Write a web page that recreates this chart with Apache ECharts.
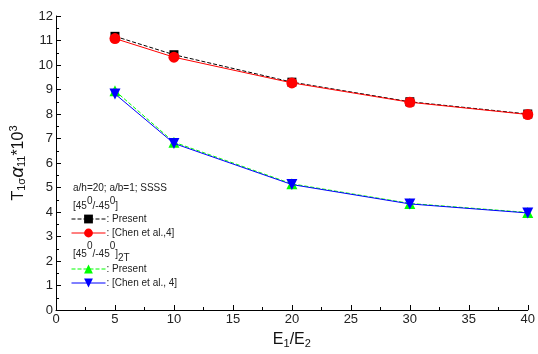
<!DOCTYPE html>
<html>
<head>
<meta charset="utf-8">
<script src="https://cdn.jsdelivr.net/npm/echarts@6/dist/echarts.min.js"></script>
<style>
  html, body { margin: 0; padding: 0; background: #fff; }
  #chart { width: 538px; height: 354px; }
</style>
</head>
<body>
<div id="chart"></div>
<script>
// E1/E2 ratios
const ratios = [5, 10, 20, 30, 40];
// [45/-45] laminate
const presentAntisym = [11.17, 10.42, 9.30, 8.50, 8.00];
const chenAntisym = [11.08, 10.32, 9.27, 8.48, 7.98];
// [45/-45]2T laminate
const present2T = [8.95, 6.85, 5.15, 4.35, 3.98];
const chen2T = [8.82, 6.80, 5.12, 4.33, 3.96];

const xTicks = { min: 0, max: 40, interval: 5 };
const yTicks = { min: 0, max: 12, interval: 1 };

const legendText = {
  'p1': ': Present',
  'c1': ': [Chen et al.,4]',
  'p2': ': Present',
  'c2': ': [Chen et al., 4]'
};

const font = '"Liberation Sans", Arial, sans-serif';
const pair = arr => arr.map((v, i) => [ratios[i], v]);

const legendBase = {
  orient: 'vertical', left: 71, padding: 0,
  itemWidth: 34, itemHeight: 11, itemGap: 4,
  lineStyle: { width: 1 },
  formatter: n => legendText[n],
  textStyle: { fontSize: 10, fontFamily: font, color: '#222', padding: [0, 0, 0, -4] }
};

const chart = echarts.init(document.getElementById('chart'));
chart.setOption({
  animation: false,
  backgroundColor: '#ffffff',
  grid: { left: 56, right: 10, top: 16, bottom: 36, containLabel: false },
  xAxis: {
    type: 'value',
    min: xTicks.min, max: xTicks.max, interval: xTicks.interval,
    name: '{m|E}{s|1}{m|/E}{s|2}',
    nameLocation: 'middle',
    nameGap: 20,
    nameTextStyle: {
      rich: {
        m: { fontSize: 16, fontFamily: font, color: '#111' },
        s: { fontSize: 11, fontFamily: font, color: '#111', verticalAlign: 'bottom', padding: [8, 0, 0, 0] }
      }
    },
    axisLine: { lineStyle: { color: '#000', width: 1 } },
    axisTick: { inside: true, length: 5, lineStyle: { color: '#000' } },
    minorTick: { show: true, splitNumber: 2, length: 3, lineStyle: { color: '#000' } },
    axisLabel: { fontSize: 13, fontFamily: font, color: '#222', margin: 3 },
    splitLine: { show: false }
  },
  yAxis: {
    type: 'value',
    min: yTicks.min, max: yTicks.max, interval: yTicks.interval,
    name: '{m|T}{s|1σ}{a|α}{s|11}{m|*10}{p|3}',
    nameLocation: 'middle',
    nameGap: 27,
    nameTextStyle: {
      rich: {
        m: { fontSize: 16, fontFamily: font, color: '#111' },
        a: { fontSize: 19, fontFamily: font, fontStyle: 'italic', color: '#111' },
        s: { fontSize: 11, fontFamily: font, color: '#111', verticalAlign: 'bottom', padding: [8, 0, 0, 0] },
        p: { fontSize: 11, fontFamily: font, color: '#111', verticalAlign: 'top', padding: [0, 0, 8, 0] }
      }
    },
    axisLine: { show: true, lineStyle: { color: '#000', width: 1 } },
    axisTick: { show: true, inside: true, length: 5, lineStyle: { color: '#000' } },
    minorTick: { show: true, splitNumber: 2, length: 3, lineStyle: { color: '#000' } },
    axisLabel: { fontSize: 13, fontFamily: font, color: '#222', margin: 3 },
    splitLine: { show: false }
  },
  legend: [
    Object.assign({ data: ['p1', 'c1'], top: 214 }, legendBase),
    Object.assign({ data: ['p2', 'c2'], top: 264 }, legendBase)
  ],
  graphic: [
    {
      type: 'text', left: 73, top: 183,
      style: { text: 'a/h=20; a/b=1; SSSS', font: '10px ' + font, fill: '#222' }
    },
    {
      type: 'text', left: 73, top: 196,
      style: {
        text: '{n|[45}{p|0}{n|/-45}{p|0}{n|]}',
        rich: {
          n: { fontSize: 10, fontFamily: font, fill: '#222', padding: [5, 0, 0, 0] },
          p: { fontSize: 10, fontFamily: font, fill: '#222', verticalAlign: 'top' }
        }
      }
    },
    {
      type: 'text', left: 73, top: 241,
      style: {
        text: '{n|[45}{p|0}{n|/-45}{p|0}{n|]}{b|2T}',
        rich: {
          n: { fontSize: 10, fontFamily: font, fill: '#222', padding: [5, 0, 0, 0] },
          p: { fontSize: 10, fontFamily: font, fill: '#222', verticalAlign: 'top' },
          b: { fontSize: 10, fontFamily: font, fill: '#222', padding: [12, 0, 0, 0] }
        }
      }
    }
  ],
  series: [
    {
      name: 'p1', type: 'line', data: pair(presentAntisym),
      symbol: 'rect', symbolSize: 9,
      itemStyle: { color: '#000' },
      lineStyle: { color: '#000', width: 1, type: [4, 2] },
      z: 2
    },
    {
      name: 'c1', type: 'line', data: pair(chenAntisym),
      symbol: 'circle', symbolSize: 11,
      itemStyle: { color: '#ff0000' },
      lineStyle: { color: '#ff0000', width: 1 },
      z: 3
    },
    {
      name: 'p2', type: 'line', data: pair(present2T),
      symbol: 'triangle', symbolSize: 11,
      itemStyle: { color: '#00ff00' },
      lineStyle: { color: '#00ff00', width: 1, type: [4, 2] },
      z: 2
    },
    {
      name: 'c2', type: 'line', data: pair(chen2T),
      symbol: 'triangle', symbolRotate: 180, symbolSize: 11,
      itemStyle: { color: '#0000ff' },
      lineStyle: { color: '#0000ff', width: 1 },
      z: 3
    }
  ]
});
</script>
</body>
</html>
